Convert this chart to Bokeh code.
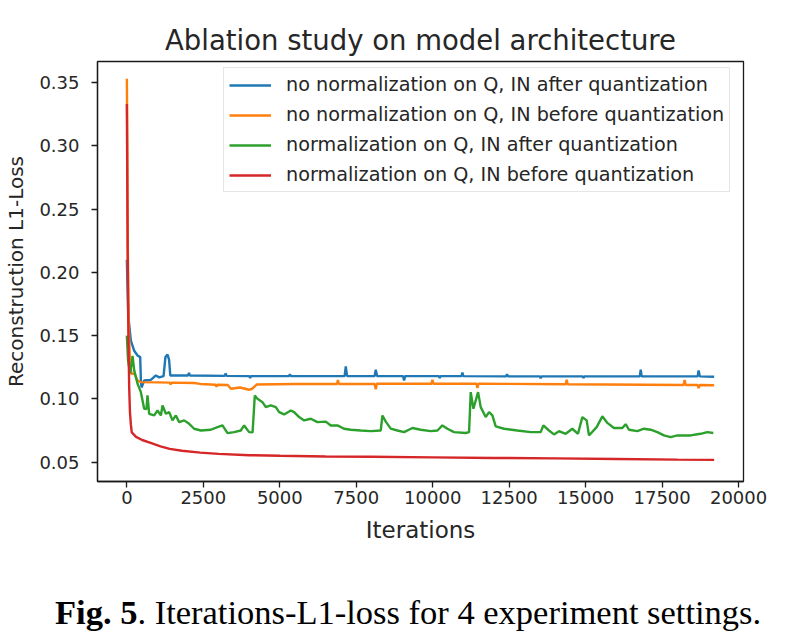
from bokeh.plotting import figure
from bokeh.models import (Range1d, FixedTicker, PrintfTickFormatter, NumeralTickFormatter,
                          Legend, LegendItem, Div)
from bokeh.layouts import column
from bokeh.embed import file_html
from bokeh.resources import INLINE

# ---------------- data ----------------
blue_x = [0, 20, 44, 131, 240, 349, 436, 458, 480, 566, 784, 948, 1056, 1200, 1260, 1330, 1380, 1420,
          2000, 2030, 2060, 3200, 3230, 3260, 4000, 4030, 4060, 5300, 5330, 5360, 7120, 7157, 7200,
          8100, 8137, 8180, 9030, 9063, 9100, 10200, 10230, 10260, 10940, 10970, 11000, 12400, 12430,
          12460, 13500, 13530, 13560, 14900, 14930, 14960, 16770, 16800, 16830, 18660, 18693, 18730, 19200]
blue_y = [0.21, 0.19, 0.166, 0.146, 0.138, 0.1343, 0.133, 0.1145, 0.109, 0.1145, 0.115, 0.1185, 0.117,
          0.118, 0.133, 0.135, 0.131, 0.1185, 0.1185, 0.1205, 0.1185, 0.1182, 0.120, 0.1182, 0.118,
          0.1165, 0.118, 0.118, 0.1195, 0.118, 0.118, 0.1256, 0.118, 0.118, 0.123, 0.118, 0.118, 0.1145,
          0.118, 0.118, 0.1165, 0.118, 0.118, 0.1208, 0.118, 0.1178, 0.1195, 0.1178, 0.1178, 0.1162,
          0.1178, 0.1178, 0.1165, 0.1178, 0.1178, 0.123, 0.1178, 0.1178, 0.1225, 0.1178, 0.1175]

orange_x = [0, 15, 30, 60, 100, 150, 250, 349, 458, 1000, 1400, 1430, 1460, 2200, 2400, 2900, 2930, 2960,
            3300, 3400, 3700, 3997, 4100, 4250, 5500, 6870, 6900, 6930, 8100, 8137, 8170, 9960, 9990,
            10020, 11430, 11460, 11490, 14350, 14380, 14410, 18200, 18235, 18270, 18660, 18693, 18730, 19200]
orange_y = [0.353, 0.30, 0.22, 0.16, 0.13, 0.1198, 0.1198, 0.1145, 0.1132, 0.113, 0.1128, 0.1115, 0.1128,
            0.1125, 0.1118, 0.1112, 0.1095, 0.1112, 0.111, 0.108, 0.109, 0.1072, 0.108, 0.1114, 0.1117,
            0.1117, 0.1148, 0.1117, 0.1117, 0.1076, 0.112, 0.112, 0.1151, 0.112, 0.112, 0.1085, 0.112,
            0.1115, 0.1151, 0.1115, 0.111, 0.115, 0.111, 0.111, 0.1085, 0.111, 0.1108]

green_x = [0, 40, 108, 186, 240, 349, 458, 566, 640, 675, 730, 893, 1002, 1111, 1166, 1275, 1383, 1492,
           1601, 1710, 1873, 2036, 2200, 2418, 2745, 2963, 3126, 3290, 3507, 3725, 3834, 3997, 4110, 4183,
           4270, 4434, 4543, 4706, 4870, 4978, 5141, 5359, 5468, 5632, 5795, 6013, 6231, 6503, 6667, 6885,
           7102, 7320, 7647, 7974, 8300, 8355, 8464, 8627, 8845, 9063, 9335, 9608, 9935, 10153, 10316,
           10480, 10697, 11080, 11188, 11242, 11330, 11482, 11569, 11732, 11841, 11950, 12059, 12330,
           12767, 13203, 13529, 13616, 13800, 13964, 14128, 14346, 14564, 14749, 14891, 15033, 15108,
           15359, 15545, 15708, 15926, 16199, 16307, 16416, 16689, 16906, 17124, 17342, 17560, 17778,
           17996, 18431, 18758, 18976, 19172]
green_y = [0.15, 0.13, 0.12, 0.134, 0.1225, 0.112, 0.1053, 0.0922, 0.092, 0.1027, 0.0882, 0.0869, 0.0908,
           0.0869, 0.0948, 0.0882, 0.0895, 0.083, 0.0869, 0.0816, 0.083, 0.0803, 0.0764, 0.075, 0.0756,
           0.0777, 0.079, 0.0729, 0.0737, 0.075, 0.079, 0.0737, 0.0735, 0.1027, 0.100, 0.0974, 0.0935,
           0.0948, 0.0935, 0.0895, 0.0877, 0.0908, 0.0895, 0.0856, 0.083, 0.0843, 0.0816, 0.082, 0.079,
           0.079, 0.0764, 0.0756, 0.075, 0.0745, 0.075, 0.0869, 0.082, 0.0765, 0.075, 0.0737, 0.077,
           0.0756, 0.0745, 0.075, 0.079, 0.0764, 0.0737, 0.073, 0.0737, 0.1053, 0.0922, 0.1053, 0.0935,
           0.0856, 0.0895, 0.087, 0.0782, 0.0764, 0.075, 0.0737, 0.0737, 0.079, 0.075, 0.0719, 0.0745,
           0.0724, 0.0764, 0.0724, 0.0856, 0.083, 0.0711, 0.0777, 0.0862, 0.081, 0.077, 0.077, 0.080,
           0.0756, 0.0745, 0.0764, 0.0756, 0.0737, 0.0711, 0.0698, 0.0711, 0.0711, 0.0724, 0.0737, 0.073]

red_x = [0, 25, 50, 75, 100, 130, 160, 300, 500, 800, 1100, 1400, 1800, 2400, 3000, 4000, 5000, 6500,
         8000, 10000, 12000, 14000, 16000, 18000, 19200]
red_y = [0.333, 0.22, 0.15, 0.11, 0.09, 0.08, 0.0735, 0.070, 0.0675, 0.065, 0.0625, 0.0605, 0.059,
         0.0575, 0.0565, 0.0555, 0.055, 0.0545, 0.0542, 0.0538, 0.0533, 0.053, 0.0525, 0.052, 0.0518]

labels = ["no normalization on Q, IN after quantization",
          "no normalization on Q, IN before quantization",
          "normalization on Q, IN after quantization",
          "normalization on Q, IN before quantization"]
colors = ["#1f77b4", "#ff7f0e", "#2ca02c", "#d62728"]

x_ticks = [0, 2500, 5000, 7500, 10000, 12500, 15000, 17500, 20000]
y_ticks = [0.05, 0.10, 0.15, 0.20, 0.25, 0.30, 0.35]

title_text = "Ablation study on model architecture"
x_label = "Iterations"
y_label = "Reconstruction L1-Loss"
caption_bold = "Fig. 5"
caption_rest = ". Iterations-L1-loss for 4 experiment settings."

FONT = "DejaVu Sans"
TXT = "#262626"

p = figure(width=790, height=560, output_backend="svg", toolbar_location=None,
           x_range=Range1d(-960, 20160), y_range=Range1d(0.0347, 0.3666),
           min_border_left=97, min_border_right=47, min_border_top=61, min_border_bottom=79)
p.background_fill_color = "white"
p.border_fill_color = "white"
p.outline_line_color = "#1a1a1a"
p.outline_line_width = 1.3
p.grid.visible = False

p.title.text = title_text
p.title.text_font = FONT
p.title.text_font_size = "27.5px"
p.title.text_font_style = "normal"
p.title.text_color = TXT
p.title.align = "center"
p.title.standoff = 11

for ax in (p.xaxis[0], p.yaxis[0]):
    ax.axis_line_color = "#1a1a1a"
    ax.axis_line_width = 1.3
    ax.major_tick_line_color = "#1a1a1a"
    ax.major_tick_line_width = 1.3
    ax.major_tick_out = 6
    ax.major_tick_in = 0
    ax.minor_tick_line_color = None
    ax.major_label_text_font = FONT
    ax.major_label_text_font_size = "18px"
    ax.major_label_text_color = TXT
    ax.axis_label_text_font = FONT
    ax.axis_label_text_font_style = "normal"
    ax.axis_label_text_color = TXT

p.xaxis.axis_label_text_font_size = "23px"
p.yaxis.axis_label_text_font_size = "20px"
p.xaxis.ticker = FixedTicker(ticks=x_ticks)
p.yaxis.ticker = FixedTicker(ticks=y_ticks)
p.yaxis.formatter = PrintfTickFormatter(format="%.2f")
p.xaxis.formatter = NumeralTickFormatter(format="0")
p.xaxis.axis_label = x_label
p.yaxis.axis_label = y_label
p.xaxis.major_label_standoff = 3
p.yaxis.major_label_standoff = 12
p.xaxis.axis_label_standoff = 10
p.yaxis.axis_label_standoff = 8

series = [(blue_x, blue_y), (orange_x, orange_y), (green_x, green_y), (red_x, red_y)]
renderers = []
for (xs, ys), c in zip(series, colors):
    r = p.line(xs, ys, line_color=c, line_width=2.4)
    renderers.append(r)

legend = Legend(items=[LegendItem(label=l, renderers=[r]) for l, r in zip(labels, renderers)],
                location=(126, 289))
legend.label_text_font = FONT
legend.label_text_font_size = "19.2px"
legend.label_text_color = TXT
legend.glyph_width = 42
legend.glyph_height = 22
legend.label_height = 22
legend.spacing = 7
legend.padding = 5
legend.margin = 0
legend.label_standoff = 15
legend.border_line_color = "#cccccc"
legend.border_line_width = 1
legend.background_fill_alpha = 0.8
p.add_layout(legend, "center")

caption = Div(
    text=("<div style=\"font-family:'Liberation Serif'; font-size:34.5px; color:#000; "
          "padding-left:55px; padding-top:33px; line-height:1.15; white-space:nowrap;\">"
          "<b>" + caption_bold + "</b>" + caption_rest + "</div>"),
    width=790, height=72, margin=(0, 0, 0, 0))

layout = column(p, caption, spacing=0)
open("out.html", "w").write(file_html(layout, INLINE))
